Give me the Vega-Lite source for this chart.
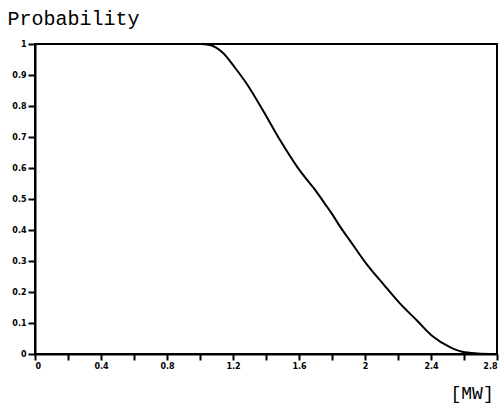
{
  "$schema": "https://vega.github.io/schema/vega-lite/v6.json",
  "width": 462,
  "height": 310,
  "autosize": "none",
  "padding": {"left": 35, "top": 44, "right": 6, "bottom": 52},
  "background": "white",
  "config": {
    "view": {"stroke": "black", "strokeWidth": 2},
    "axis": {
      "domainColor": "black", "domainWidth": 2, "tickColor": "black", "tickWidth": 2,
      "grid": false, "labelFont": "DejaVu Sans", "labelFontWeight": "bold", "labelFontSize": 8,
      "labelColor": "black", "titleColor": "black", "titleFont": "Liberation Mono", "titleFontWeight": "normal"
    }
  },
  "data": {"values": [
    {"mw": 0, "p": 1}, {"mw": 0.5, "p": 1}, {"mw": 1.0, "p": 1}, {"mw": 1.06, "p": 0.997},
    {"mw": 1.14, "p": 0.971}, {"mw": 1.21, "p": 0.925}, {"mw": 1.28, "p": 0.874}, {"mw": 1.38, "p": 0.787},
    {"mw": 1.485, "p": 0.69}, {"mw": 1.59, "p": 0.603}, {"mw": 1.65, "p": 0.561}, {"mw": 1.7, "p": 0.528},
    {"mw": 1.75, "p": 0.49}, {"mw": 1.8, "p": 0.452}, {"mw": 1.85, "p": 0.41}, {"mw": 1.91, "p": 0.365},
    {"mw": 2.01, "p": 0.29}, {"mw": 2.11, "p": 0.226}, {"mw": 2.21, "p": 0.164}, {"mw": 2.315, "p": 0.108},
    {"mw": 2.41, "p": 0.057}, {"mw": 2.515, "p": 0.022}, {"mw": 2.59, "p": 0.007}, {"mw": 2.68, "p": 0.002},
    {"mw": 2.8, "p": 0}
  ]},
  "mark": {"type": "line", "color": "black", "strokeWidth": 2, "interpolate": "monotone"},
  "encoding": {
    "x": {
      "field": "mw", "type": "quantitative",
      "scale": {"domain": [0, 2.8], "nice": false, "zero": false},
      "axis": {
        "values": [0, 0.2, 0.4, 0.6, 0.8, 1.0, 1.2, 1.4, 1.6, 1.8, 2.0, 2.2, 2.4, 2.6, 2.8],
        "format": ".1~f",
        "labelExpr": "abs(round(datum.value*10)) % 4 == 0 ? datum.label : ''",
        "tickSize": 6, "labelPadding": 2,
        "title": "[MW]", "titleFontSize": 18, "titleAlign": "left",
        "titleX": 415, "titleY": 44, "titleBaseline": "alphabetic"
      }
    },
    "y": {
      "field": "p", "type": "quantitative",
      "scale": {"domain": [0, 1], "nice": false},
      "axis": {
        "values": [0, 0.1, 0.2, 0.3, 0.4, 0.5, 0.6, 0.7, 0.8, 0.9, 1],
        "format": ".1~f",
        "tickSize": 7, "labelPadding": 2,
        "title": "Probability", "titleFontSize": 20, "titleAngle": 0, "titleAlign": "left",
        "titleX": -28, "titleY": -20, "titleBaseline": "alphabetic"
      }
    }
  }
}
